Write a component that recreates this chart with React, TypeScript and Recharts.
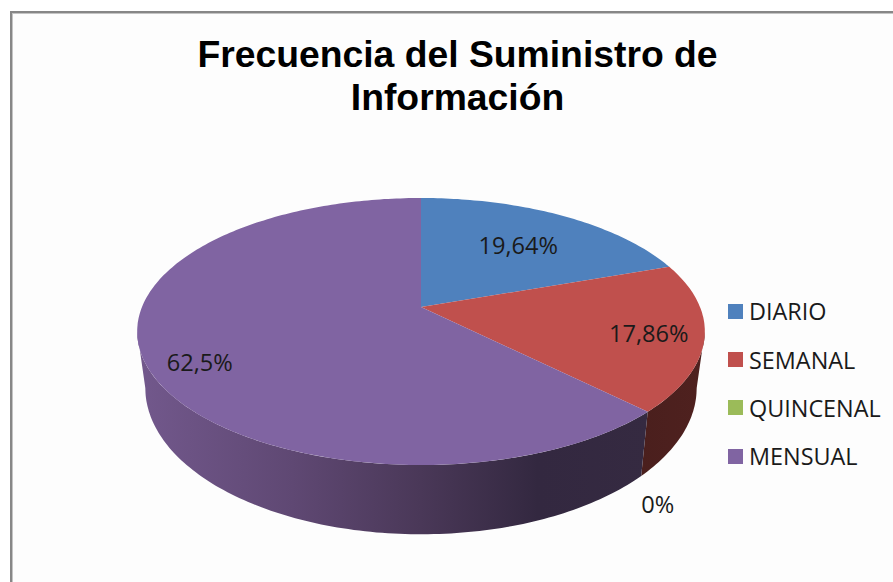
import { Cell, Legend, Pie, PieChart } from "recharts";

const CATEGORIES = ["DIARIO", "SEMANAL", "QUINCENAL", "MENSUAL"];
const VALUES = [19.64, 17.86, 0, 62.5];
const VALUE_LABELS = ["19,64%", "17,86%", "0%", "62,5%"];
const COLORS = ["#4f81bd", "#c0504d", "#9bbb59", "#8064a2"];
const TITLE_LINES = ["Frecuencia del Suministro de", "Información"];

const FONT = "'Open Sans', sans-serif";

// Perspective projection of the pie disc: apex, half width, half height, tilt.
const TOP_FACE = { x0: 421, y0: 307, a: 279, b: 129 };
const BOTTOM_FACE = { x0: 421, y0: 361, a: 271, b: 141.5 };
const TILT = 0.1835;
// Where the disc is widest, so the side wall only runs between these angles.
const WALL_START = 100.6;
const WALL_END = 259.4;

// Label radius (fraction of the disc) and a small nudge, per slice.
const LABEL_PLACEMENT = [
  { r: 0.67, dx: -1, dy: 2 },
  { r: 0.82, dx: -3, dy: 2 },
  { r: 1, dx: 10, dy: 92 },
  { r: 0.82, dx: 3, dy: 12 },
];

type Face = typeof TOP_FACE;

function project(face: Face, clockwiseDeg: number, r = 1) {
  const t = (clockwiseDeg * Math.PI) / 180;
  const w = 1 + TILT * r * Math.cos(t);
  return {
    x: face.x0 + (face.a * r * Math.sin(t)) / w,
    y: face.y0 - (face.b * r * Math.cos(t)) / w,
  };
}

function arcPoints(face: Face, from: number, to: number) {
  const pts: string[] = [];
  const steps = Math.max(2, Math.ceil(Math.abs(to - from)));
  for (let i = 0; i <= steps; i++) {
    const p = project(face, from + ((to - from) * i) / steps);
    pts.push(`${p.x.toFixed(1)} ${p.y.toFixed(1)}`);
  }
  return pts;
}

function Slice3D(props: any) {
  const { startAngle, endAngle, fill, index } = props;
  // Recharts angles run counter-clockwise from 3 o'clock.
  const from = 90 - startAngle;
  const to = 90 - endAngle;
  if (Math.abs(to - from) < 0.01) return <g />;

  const wallFrom = Math.max(from, WALL_START);
  const wallTo = Math.min(to, WALL_END);
  const hasWall = wallTo > wallFrom;
  const wall = hasWall
    ? `M${[...arcPoints(TOP_FACE, wallFrom, wallTo), ...arcPoints(BOTTOM_FACE, wallTo, wallFrom)].join("L")}Z`
    : "";
  const apex = `${TOP_FACE.x0} ${TOP_FACE.y0}`;
  const top = `M${apex}L${arcPoints(TOP_FACE, from, to).join("L")}Z`;

  return (
    <g>
      {hasWall && <path d={wall} fill={`url(#wall-${index})`} stroke="none" />}
      <path d={top} fill={fill} stroke="none" />
    </g>
  );
}

function SliceLabel(props: any) {
  const { midAngle, index } = props;
  const place = LABEL_PLACEMENT[index];
  const p = project(TOP_FACE, 90 - midAngle, place.r);
  return (
    <text
      x={p.x + place.dx}
      y={p.y + place.dy}
      textAnchor="middle"
      dominantBaseline="central"
      fontFamily={FONT}
      fontSize={23.6}
      fill="#1a1a1a"
    >
      {VALUE_LABELS[index]}
    </text>
  );
}

function LegendList() {
  return (
    <div style={{ fontFamily: FONT, fontSize: 23.4, color: "#1a1a1a", whiteSpace: "nowrap" }}>
      {CATEGORIES.map((name, i) => (
        <div key={name} style={{ display: "flex", alignItems: "center", height: 48.4 }}>
          <span style={{ width: 15, height: 15, background: COLORS[i], marginRight: 6 }} />
          {name}
        </div>
      ))}
    </div>
  );
}

export default function App() {
  const data = CATEGORIES.map((name, i) => ({ name, value: VALUES[i] }));
  return (
    <div style={{ position: "absolute", left: 0, top: 0, width: 893, height: 582, background: "#fff", overflow: "hidden" }}>
      <div
        style={{
          position: "absolute",
          left: 10,
          top: 11,
          width: 900,
          height: 600,
          border: "2px solid #878787",
          boxShadow: "inset 1px 1px 0 #c4c4c4",
          background: "#fdfdfd",
        }}
      />
      <div
        style={{
          position: "absolute",
          left: 0,
          top: 33,
          width: 915,
          textAlign: "center",
          fontFamily: "'Liberation Sans', Arial, sans-serif",
          fontWeight: 700,
          fontSize: 37.3,
          lineHeight: "43px",
          color: "#000",
        }}
      >
        {TITLE_LINES.map((line) => (
          <div key={line}>{line}</div>
        ))}
      </div>
      <div style={{ position: "absolute", left: 0, top: 0 }}>
        <PieChart width={893} height={582}>
          <defs>
            <linearGradient id="wall-1" gradientUnits="userSpaceOnUse" x1="640" y1="0" x2="705" y2="0">
              <stop offset="0" stopColor="#4a1f1d" />
              <stop offset="1" stopColor="#4f211f" />
            </linearGradient>
            <linearGradient id="wall-3" gradientUnits="userSpaceOnUse" x1="140" y1="0" x2="650" y2="0">
              <stop offset="0" stopColor="#72588c" />
              <stop offset="0.3" stopColor="#5f4873" />
              <stop offset="0.55" stopColor="#4a3858" />
              <stop offset="0.78" stopColor="#332840" />
              <stop offset="1" stopColor="#352a41" />
            </linearGradient>
          </defs>
          <Pie
            data={data}
            dataKey="value"
            nameKey="name"
            cx={421}
            cy={307}
            outerRadius={129}
            startAngle={90}
            endAngle={-270}
            paddingAngle={0}
            stroke="none"
            shape={Slice3D}
            label={SliceLabel}
            labelLine={false}
            isAnimationActive={false}
          >
            {CATEGORIES.map((name, i) => (
              <Cell key={name} fill={COLORS[i]} />
            ))}
          </Pie>
          <Legend
            layout="vertical"
            align="right"
            verticalAlign="top"
            content={<LegendList />}
            wrapperStyle={{ left: 728, top: 287, width: 165 }}
          />
        </PieChart>
      </div>
    </div>
  );
}
